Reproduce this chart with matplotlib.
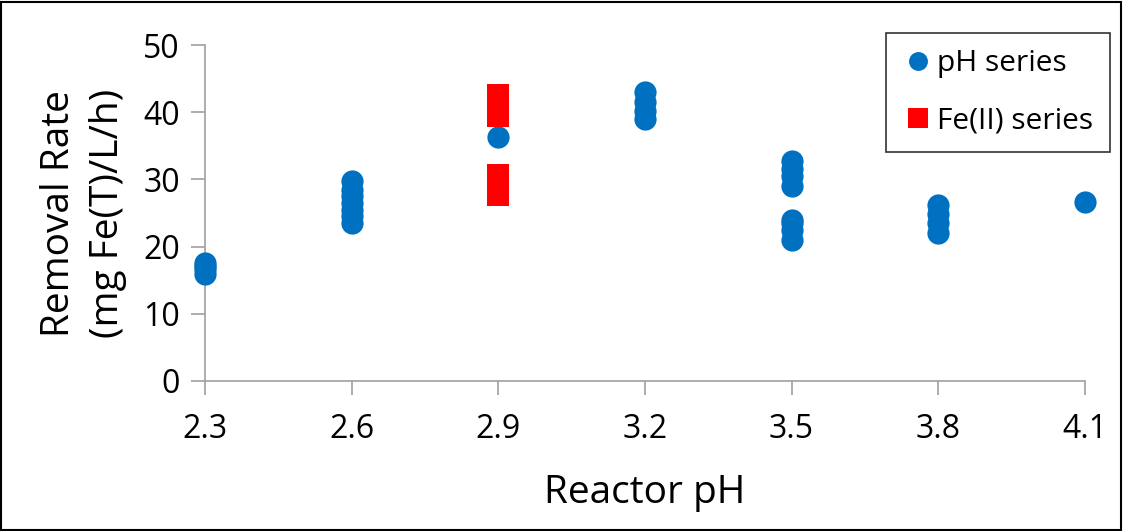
import matplotlib
matplotlib.use("Agg")
import matplotlib.pyplot as plt
from matplotlib.patches import Rectangle

plt.rcParams.update({
    "font.family": ["Open Sans", "DejaVu Sans"],
    "font.size": 20,
})

# pH series (reactor pH, removal rate)
ph_x = [2.3, 2.3, 2.3, 2.3,
        2.6, 2.6, 2.6, 2.6, 2.6, 2.6, 2.6,
        2.9,
        3.2, 3.2, 3.2, 3.2,
        3.5, 3.5, 3.5, 3.5, 3.5, 3.5, 3.5, 3.5,
        3.8, 3.8, 3.8, 3.8,
        4.1]
ph_y = [16.0, 16.6, 17.1, 17.6,
        23.5, 24.5, 25.5, 26.5, 27.5, 28.5, 29.8,
        36.3,
        39.0, 40.2, 41.5, 43.0,
        21.0, 22.5, 23.5, 24.0, 29.0, 30.5, 31.5, 32.8,
        22.0, 23.5, 24.8, 26.2,
        26.6]

# Fe(II) series
fe_x = [2.9, 2.9, 2.9, 2.9]
fe_y = [27.7, 30.7, 39.4, 42.6]

xticks = [2.3, 2.6, 2.9, 3.2, 3.5, 3.8, 4.1]
yticks = [0, 10, 20, 30, 40, 50]

fig = plt.figure(figsize=(11.23, 5.31), dpi=100)
ax = fig.add_axes([0.1825, 0.2825, 0.7835, 0.6325])

ax.plot(ph_x, ph_y, "o", color="#0070C0", markersize=16, markeredgewidth=0,
        label="pH series", zorder=3, clip_on=False)
ax.plot(fe_x, fe_y, "s", color="#FF0000", markersize=16.5, markeredgewidth=0,
        label="Fe(II) series", zorder=4, clip_on=False)

ax.set_xlim(2.3, 4.1)
ax.set_ylim(0, 50)
ax.set_xticks(xticks)
ax.set_xticklabels([f"{t:.1f}" for t in xticks])
ax.set_yticks(yticks)
ax.tick_params(axis="both", labelsize=23, color="#A0A0A0", length=10, width=1.2)
ax.tick_params(axis="x", pad=13)
ax.tick_params(axis="y", pad=8)

for s in ["top", "right"]:
    ax.spines[s].set_visible(False)
for s in ["left", "bottom"]:
    ax.spines[s].set_color("#A0A0A0")
    ax.spines[s].set_linewidth(1.2)

ax.set_xlabel("Reactor pH", fontsize=28, labelpad=20)
ax.set_ylabel("Removal Rate\n(mg Fe(T)/L/h)", fontsize=28, labelpad=12,
              linespacing=1.35)

leg = fig.legend(loc="upper right", bbox_to_anchor=(0.988, 0.938), fontsize=21.5,
                 frameon=True, fancybox=False, borderpad=0.55, labelspacing=0.95,
                 handletextpad=0.15, handlelength=1.0, borderaxespad=0,
                 markerscale=0.85)
leg.get_frame().set_edgecolor("black")
leg.get_frame().set_linewidth(1.2)

fig.patches.append(Rectangle((0.001, 0.002), 0.997, 0.995, transform=fig.transFigure,
                             fill=False, edgecolor="black", linewidth=1.5))

fig.savefig("out.png", dpi=100)
